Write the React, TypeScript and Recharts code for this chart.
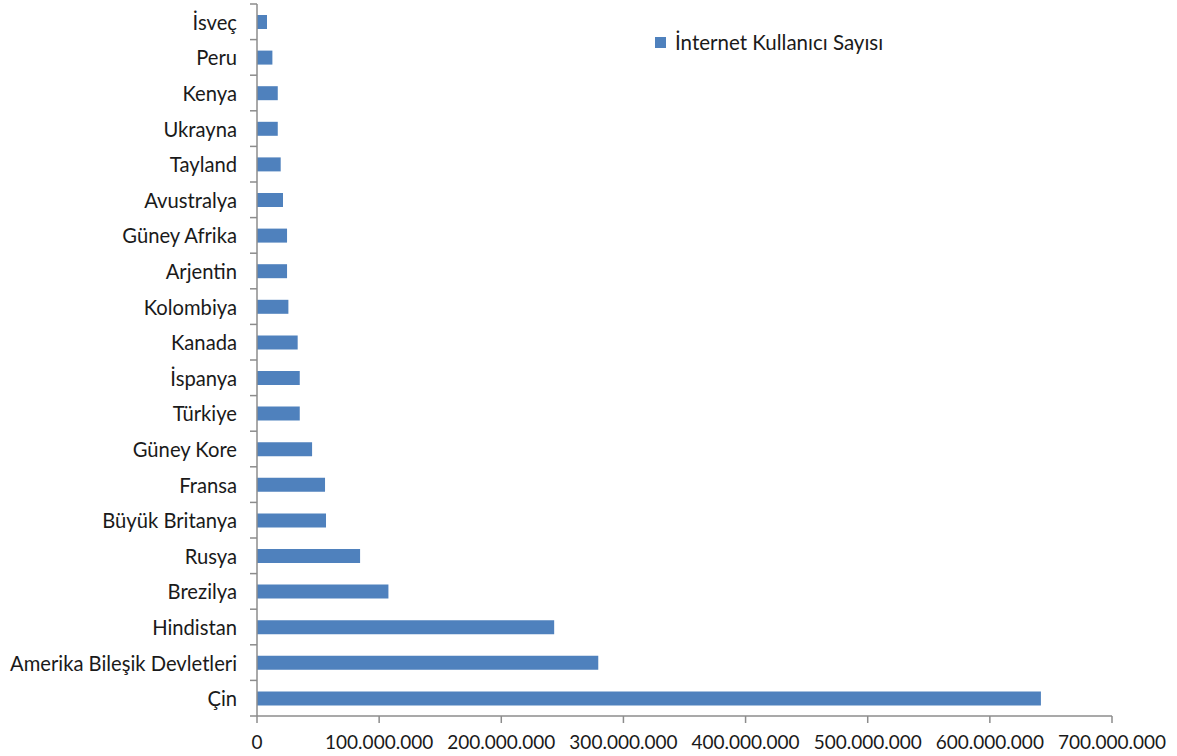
import React from 'react';
import { BarChart, Bar, XAxis, YAxis } from 'recharts';

const countries = [
  'İsveç', 'Peru', 'Kenya', 'Ukrayna', 'Tayland', 'Avustralya', 'Güney Afrika', 'Arjentin',
  'Kolombiya', 'Kanada', 'İspanya', 'Türkiye', 'Güney Kore', 'Fransa', 'Büyük Britanya',
  'Rusya', 'Brezilya', 'Hindistan', 'Amerika Bileşik Devletleri', 'Çin',
];
const users = [
  8200000, 12600000, 17000000, 17000000, 19400000, 21300000, 24600000, 24600000,
  25700000, 33300000, 35000000, 35000000, 45100000, 55700000, 56500000,
  84400000, 107600000, 243300000, 279400000, 641800000,
];
const xTicks = [0, 100000000, 200000000, 300000000, 400000000, 500000000, 600000000, 700000000];
const seriesName = 'İnternet Kullanıcı Sayısı';

const data = countries.map((c, i) => ({ name: c, value: users[i] }));

const FONT = 'Lato, "Open Sans", sans-serif';
const BAND = 712 / countries.length;
const AXIS_COLOR = '#8c8c8c';
const BAR_COLOR = '#4F81BD';

const fmt = (v: number) => String(v).replace(/\B(?=(\d{3})+(?!\d))/g, '.');

const YTick = (props: any) => {
  const { x, y, payload, index } = props;
  const ax = x + 20;
  return (
    <g>
      <text x={x} y={y} textAnchor="end" dominantBaseline="central" fontSize={20.2} fontFamily={FONT} fill="#1a1a1a">
        {payload.value}
      </text>
      <line x1={ax - 7} x2={ax} y1={y + BAND / 2} y2={y + BAND / 2} stroke={AXIS_COLOR} strokeWidth={1.5} />
      {index === 0 && (
        <line x1={ax - 7} x2={ax} y1={y - BAND / 2} y2={y - BAND / 2} stroke={AXIS_COLOR} strokeWidth={1.5} />
      )}
    </g>
  );
};

export default function App() {
  return (
    <div style={{ position: 'absolute', left: 0, top: 0, width: 1177, height: 756, background: '#fff' }}>
      <BarChart
        width={1177}
        height={756}
        data={data}
        layout="vertical"
        margin={{ top: 4, right: 65, bottom: 0, left: 0 }}
        barSize={14}
      >
        <XAxis
          type="number"
          domain={[0, 700000000]}
          ticks={xTicks}
          tickFormatter={fmt}
          height={40}
          stroke={AXIS_COLOR}
          strokeWidth={1.5}
          tickSize={7}
          tickMargin={13}
          tick={{ fontSize: 19, fontFamily: FONT, fill: '#1a1a1a' }}
          interval={0}
        />
        <YAxis
          type="category"
          dataKey="name"
          width={257}
          stroke={AXIS_COLOR}
          strokeWidth={1.5}
          tickSize={0}
          tickMargin={20}
          tick={<YTick />}
          interval={0}
        />
        <Bar dataKey="value" name={seriesName} fill={BAR_COLOR} isAnimationActive={false} />
      </BarChart>
      <div
        style={{
          position: 'absolute', left: 655, top: 29, display: 'flex', alignItems: 'center',
          fontFamily: FONT, fontSize: 20.5, color: '#1a1a1a', whiteSpace: 'nowrap', lineHeight: '26px',
        }}
      >
        <span style={{ display: 'inline-block', width: 11, height: 11, background: BAR_COLOR, marginRight: 9 }} />
        <span>{seriesName}</span>
      </div>
    </div>
  );
}
